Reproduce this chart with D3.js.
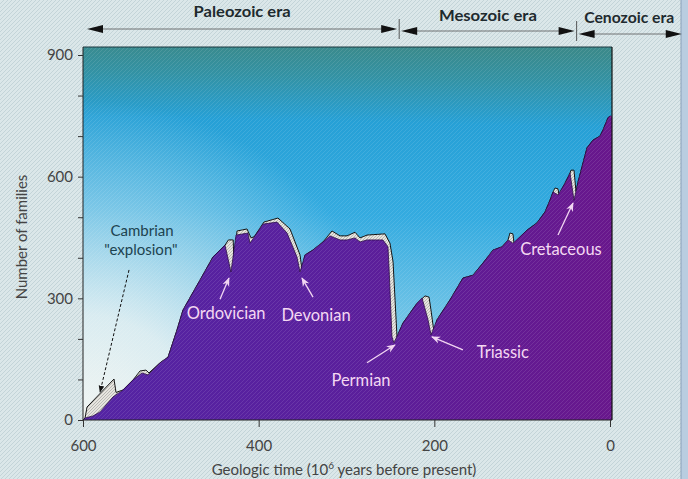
<!DOCTYPE html>
<html><head><meta charset="utf-8">
<script src="https://cdn.jsdelivr.net/npm/d3@7"></script>
<style>html,body{margin:0;padding:0;background:#d9e6e8;overflow:hidden}</style>
</head><body><svg id="c" width="688" height="479"></svg>
<script>
// ---- data (time in 10^6 years before present, number of families) ----
const familiesTime = [600,597.7,588.6,580.6,565.8,554.5,543,532.8,526,512.3,503.2,493,486.2,466.8,452,438.3,431.5,425.8,412.2,409.9,395.1,379.1,367.7,356.4,352.9,347.3,338.2,326.8,318.8,307.4,299.4,290.3,284.6,276.7,258.5,252.8,251.6,248.2,246,235.7,219.7,214,207.2,203.8,197,182.2,167.4,156,144.6,133.2,123,116.1,110.5,94.5,83.1,74,68.3,64.9,59.2,51.2,45.5,41,36.4,30.7,26.2,19.4,11.4,8,2.3,0];
const familiesCount = [0,5,10,20,57,74,99,116,111,141,155,222,271,345,402,431,365,456,461,436,483,488,461,402,365,407,419,439,454,444,444,449,439,444,444,427,377,205,190,239,288,301,247,210,247,296,350,357,387,419,427,444,436,468,486,513,542,562,555,584,609,542,587,634,671,690,700,715,745,750];
// envelope before extinctions (grey band shows families lost)
const upperTime = [600,597.7,595.4,564.7,562.4,554.5,543,535,528.3,524.9,512.3,503.2,493,486.2,466.8,452,438.3,434.5,429,428,424.7,413.3,408.7,405,394,378,364.3,352.9,350.7,347.3,338.2,326.8,316.5,307.4,299.4,290.3,284.6,276.6,256.2,250.5,247,242.5,235.7,219.7,210.6,206,203.8,200.4,197,182.2,167.4,156,144.6,133.2,123,116.1,113.9,110.5,109.3,94.5,83.1,74,68.3,64.9,62.6,59.2,58.1,51.2,45.5,44.4,41,38.7,36.4,30.7,26.2,19.4,11.4,8,2.3,0];
const upperCount = [0,5,32,101,68,74,99,121,123,116,141,155,222,271,345,402,431,444,444,375,466,471,449,452,488,498,471,407,370,407,419,439,466,454,454,463,449,456,459,436,390,205,239,288,306,303,271,217,247,296,350,357,387,419,427,444,461,459,436,468,486,513,542,562,572,570,555,584,609,616,616,563,587,634,671,690,700,715,745,750];

const yTicks = [0,100,200,300,400,500,600,700,800,900];
const yTickLabels = ["0","","","300","","","600","","","900"];
const xTicks = [600,400,200,0];
const xTickLabels = ["600","400","200","0"];

const eraNames = ["Paleozoic era","Mesozoic era","Cenozoic era"];
const eraStart = [600,240,38];
const eraEnd = [240,38,-84];

const eventNames = ["Ordovician","Devonian","Permian","Triassic","Cretaceous"];
const eventLabelTime = [437,334.7,283.5,122,55.8];
const eventLabelCount = [264,259,99,168,422];
const eventTailTime = [444,338.1,276.7,167.4,59.2];
const eventTailCount = [298,303,141,173,456];
const eventHeadTime = [433.8,350.7,244.8,202.7,42.1];
const eventHeadCount = [350,350,185,205,535];

const cambrianLines = ["Cambrian","\"explosion\""];
const cambrianTime = [532.8,534];
const cambrianCount = [466,420];
const cambrianArrowTime = [547.6,580.6];
const cambrianArrowCount = [370,69];

// ---- drawing ----
const svg = d3.select("#c");
const x = d3.scaleLinear().domain([600,0]).range([83,610]);
const y = d3.scaleLinear().domain([0,900]).range([420,55]);
const boxTop = 47, boxRight = 612;

const defs = svg.append("defs");
const pat = defs.append("pattern").attr("id","hatch").attr("patternUnits","userSpaceOnUse").attr("width",4).attr("height",4);
pat.append("rect").attr("width",4).attr("height",4).attr("fill","#dbe7e9");
pat.append("path").attr("d","M-1,1 l2,-2 M0,4 l4,-4 M3,5 l2,-2").attr("stroke","#c3d4d8").attr("stroke-width",1);
const pat2 = defs.append("pattern").attr("id","stripe").attr("patternUnits","userSpaceOnUse").attr("width",4).attr("height",4);
pat2.append("path").attr("d","M-1,1 l2,-2 M0,4 l4,-4 M3,5 l2,-2").attr("stroke","#ffffff").attr("stroke-width",1);
const pat3 = defs.append("pattern").attr("id","greyband").attr("patternUnits","userSpaceOnUse").attr("width",3).attr("height",3);
pat3.append("rect").attr("width",3).attr("height",3).attr("fill","#e6e4de");
pat3.append("path").attr("d","M0,3 l3,-3").attr("stroke","#a4a4a0").attr("stroke-width",0.7);

const sky = defs.append("linearGradient").attr("id","sky").attr("x1","0.5").attr("y1","0").attr("x2","0.47").attr("y2","1");
[[0,"#3a8a8c"],[0.08,"#3392a4"],[0.2,"#26a0d6"],[0.45,"#34abe0"],[0.7,"#6cc2e6"],[1,"#a8d8ea"]]
  .forEach(s=>sky.append("stop").attr("offset",s[0]).attr("stop-color",s[1]));
const glow = defs.append("radialGradient").attr("id","glow").attr("gradientUnits","userSpaceOnUse")
  .attr("cx",83).attr("cy",430).attr("r",330);
[[0,"#f2f5f2",1],[0.35,"#e4f0f2",0.9],[0.7,"#c6e4ee",0.45],[1,"#bfe2ee",0]]
  .forEach(s=>glow.append("stop").attr("offset",s[0]).attr("stop-color",s[1]).attr("stop-opacity",s[2]));
const purp = defs.append("linearGradient").attr("id","purp").attr("x1","0").attr("y1","0").attr("x2","1").attr("y2","0");
[[0,"#5424a4"],[0.5,"#5a1f9c"],[1,"#68178c"]].forEach(s=>purp.append("stop").attr("offset",s[0]).attr("stop-color",s[1]));

const mk = defs.append("marker").attr("id","pinkhead").attr("viewBox","0 0 10 10").attr("refX",9).attr("refY",5)
  .attr("markerWidth",7).attr("markerHeight",7).attr("orient","auto");
mk.append("path").attr("d","M0,1 L10,5 L0,9 L3,5 Z").attr("fill","#f2d6f2");
const mk2 = defs.append("marker").attr("id","blackhead").attr("viewBox","0 0 10 10").attr("refX",9).attr("refY",5)
  .attr("markerWidth",7).attr("markerHeight",7).attr("orient","auto");
mk2.append("path").attr("d","M0,1 L10,5 L0,9 Z").attr("fill","#111");

// page background
svg.append("rect").attr("width",688).attr("height",479).attr("fill","url(#hatch)");
svg.append("rect").attr("x",681).attr("y",0).attr("width",7).attr("height",479).attr("fill","#b9cde0");
svg.append("line").attr("x1",681).attr("x2",681).attr("y1",0).attr("y2",479).attr("stroke","#8aa0b8");

// plot box
svg.append("rect").attr("x",83).attr("y",boxTop).attr("width",boxRight-83).attr("height",420-boxTop).attr("fill","url(#sky)");
svg.append("rect").attr("x",83).attr("y",boxTop).attr("width",boxRight-83).attr("height",420-boxTop).attr("fill","url(#glow)");

const upper = upperTime.map((t,i)=>({t, v:upperCount[i]}));
const fam = familiesTime.map((t,i)=>({t, v:familiesCount[i]}));
const area = d3.area().x(d=>x(d.t)).y0(y(0)).y1(d=>y(d.v));
const line = d3.line().x(d=>x(d.t)).y(d=>y(d.v));

svg.append("path").attr("d",area(upper)).attr("fill","url(#greyband)");
svg.append("path").attr("d",line(upper)).attr("fill","none").attr("stroke","#111").attr("stroke-width",1);
svg.append("path").attr("d",area(fam)).attr("fill","url(#purp)");
svg.append("rect").attr("x",x(0)).attr("y",y(750)).attr("width",boxRight-x(0)).attr("height",420-y(750)).attr("fill","#68178c");
svg.append("path").attr("d",line(fam)).attr("fill","none").attr("stroke","#2a0a45").attr("stroke-width",0.8);

// moire stripes
svg.append("rect").attr("x",83).attr("y",boxTop).attr("width",boxRight-83).attr("height",420-boxTop)
  .attr("fill","url(#stripe)").attr("opacity",0.1);

// box edges
svg.append("line").attr("x1",83).attr("x2",boxRight).attr("y1",boxTop).attr("y2",boxTop).attr("stroke","#1d3940").attr("stroke-width",1);
svg.append("line").attr("x1",boxRight).attr("x2",boxRight).attr("y1",boxTop).attr("y2",420).attr("stroke","#111").attr("stroke-width",1.2);

// axes
const font = "Lato, 'Open Sans', sans-serif";
const yAxis = svg.append("g").attr("transform","translate(83,0)")
  .call(d3.axisLeft(y).tickValues(yTicks).tickFormat((d,i)=>yTickLabels[i]).tickSize(5).tickPadding(5).tickSizeOuter(0));
yAxis.select(".domain").attr("d",`M0,${boxTop}V420`).attr("stroke","#222");
yAxis.selectAll(".tick line").attr("stroke","#333");
yAxis.selectAll("text").attr("font-family",font).attr("font-size",15).attr("fill","#444");

const xAxis = svg.append("g").attr("transform","translate(0,420)")
  .call(d3.axisBottom(x).tickValues(xTicks).tickFormat((d,i)=>xTickLabels[i]).tickSize(7).tickPadding(13).tickSizeOuter(0));
xAxis.select(".domain").attr("d",`M83,0H${boxRight}`).attr("stroke","#222").attr("stroke-width",1.2);
xAxis.selectAll(".tick line").attr("stroke","#333");
xAxis.selectAll("text").attr("font-family",font).attr("font-size",15).attr("fill","#444");

svg.append("text").attr("transform","translate(27,237) rotate(-90)").attr("text-anchor","middle")
  .attr("font-family",font).attr("font-size",15).attr("fill","#444").text("Number of families");
const xl = svg.append("text").attr("x",344).attr("y",475).attr("text-anchor","middle")
  .attr("font-family",font).attr("font-size",15).attr("fill","#444");
xl.append("tspan").text("Geologic time (10");
xl.append("tspan").attr("dy",-6).attr("font-size",10).text("6");
xl.append("tspan").attr("dy",6).text(" years before present)");

// era arrows
const eraY = [29,31,34];
const eraTextY = [17,21,23];
const eraTextW = [97,98,90];
eraNames.forEach((n,i)=>{
  const x1 = x(eraStart[i]) + (i===0?4:2), x2 = x(eraEnd[i]) - 2;
  const g = svg.append("g");
  g.append("line").attr("x1",x1+10).attr("x2",x2-10).attr("y1",eraY[i]).attr("y2",eraY[i]).attr("stroke","#555").attr("stroke-width",0.8);
  g.append("path").attr("d",`M${x1},${eraY[i]} l16,-4 v8 z`).attr("fill","#111");
  g.append("path").attr("d",`M${x2},${eraY[i]} l-16,-4 v8 z`).attr("fill","#111");
  g.append("text").attr("x",(x1+Math.min(x2,684))/2 + (i===2?-1:0)).attr("y",eraTextY[i]).attr("text-anchor","middle")
    .attr("font-family",font).attr("font-weight","bold")
    .attr("font-size",16).attr("fill","#1e2a2e")
    .attr("textLength",eraTextW[i]).attr("lengthAdjust","spacingAndGlyphs").text(n);
});
[240,38].forEach((t,i)=>{
  svg.append("line").attr("x1",x(t)).attr("x2",x(t)).attr("y1",eraY[i]-10).attr("y2",eraY[i]+10).attr("stroke","#333").attr("stroke-width",0.8);
});

// event annotations
eventNames.forEach((n,i)=>{
  svg.append("line").attr("x1",x(eventTailTime[i])).attr("y1",y(eventTailCount[i]))
    .attr("x2",x(eventHeadTime[i])).attr("y2",y(eventHeadCount[i]))
    .attr("stroke","#f2d6f2").attr("stroke-width",1.3).attr("marker-end","url(#pinkhead)");
  svg.append("text").attr("x",x(eventLabelTime[i])).attr("y",y(eventLabelCount[i])+6).attr("text-anchor","middle")
    .attr("font-family",font).attr("font-size",16.5).attr("fill","#f4d8f2").text(n);
});
cambrianLines.forEach((l,i)=>{
  svg.append("text").attr("x",x(cambrianTime[i])).attr("y",y(cambrianCount[i])+5).attr("text-anchor","middle")
    .attr("font-family",font).attr("font-size",15).attr("fill","#1d4350").text(l);
});
svg.append("line").attr("x1",x(cambrianArrowTime[0])).attr("y1",y(cambrianArrowCount[0]))
  .attr("x2",x(cambrianArrowTime[1])).attr("y2",y(cambrianArrowCount[1]))
  .attr("stroke","#111").attr("stroke-width",1).attr("stroke-dasharray","3,2").attr("marker-end","url(#blackhead)");
</script></body></html>
